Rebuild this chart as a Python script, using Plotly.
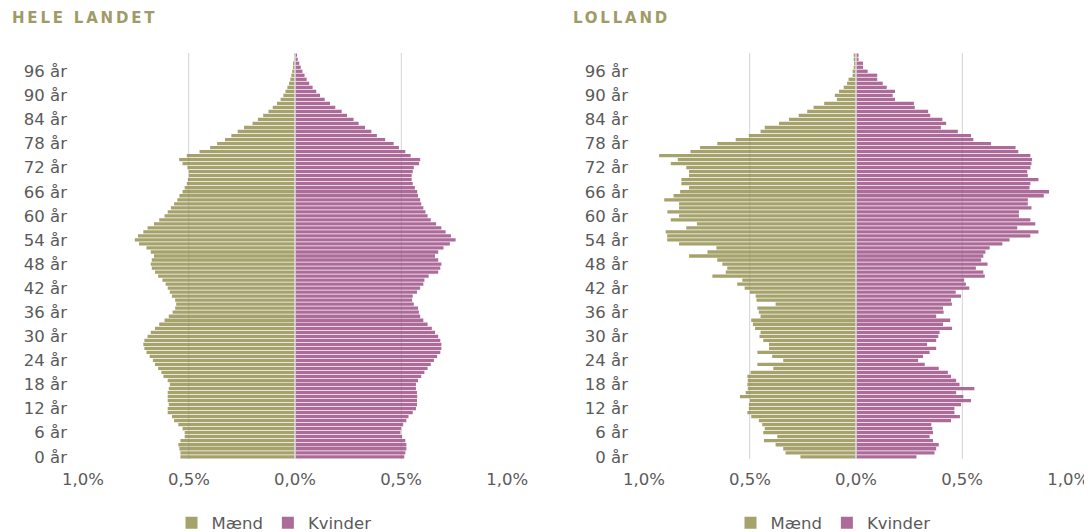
import plotly.graph_objects as go

# ---------------- data ----------------
ages = list(range(101))
tick_ages = list(range(0, 97, 6))
tick_labels = [f"{a} år" for a in tick_ages]
x_ticks = [-1.0, -0.5, 0.0, 0.5, 1.0]
x_tick_labels = ["1,0%", "0,5%", "0,0%", "0,5%", "1,0%"]
titles = ["HELE LANDET", "LOLLAND"]
series_names = ["Mænd", "Kvinder"]

# share of population (%) by single year of age, 0..100
hele_maend = [
    0.54, 0.54, 0.545, 0.55, 0.54, 0.52, 0.52, 0.53, 0.55, 0.57,
    0.58, 0.60, 0.60, 0.595, 0.60, 0.60, 0.60, 0.595, 0.59, 0.60,
    0.62, 0.63, 0.645, 0.66, 0.67, 0.685, 0.70, 0.71, 0.715, 0.71,
    0.695, 0.68, 0.66, 0.64, 0.615, 0.595, 0.577, 0.565, 0.56, 0.565,
    0.58, 0.59, 0.60, 0.61, 0.625, 0.645, 0.66, 0.675, 0.68, 0.675,
    0.665, 0.68, 0.70, 0.735, 0.755, 0.74, 0.715, 0.695, 0.665, 0.64,
    0.615, 0.60, 0.585, 0.57, 0.555, 0.545, 0.53, 0.52, 0.51, 0.505,
    0.50, 0.50, 0.507, 0.53, 0.546, 0.51, 0.45, 0.40, 0.367, 0.33,
    0.30, 0.27, 0.24, 0.20, 0.175, 0.15, 0.125, 0.105, 0.085, 0.068,
    0.055, 0.045, 0.036, 0.028, 0.022, 0.017, 0.013, 0.009, 0.006, 0.004,
    0.003,
]
hele_kvinder = [
    0.515, 0.52, 0.525, 0.525, 0.52, 0.505, 0.497, 0.50, 0.51, 0.525,
    0.535, 0.555, 0.57, 0.575, 0.575, 0.576, 0.575, 0.57, 0.57, 0.58,
    0.595, 0.61, 0.625, 0.64, 0.655, 0.67, 0.685, 0.69, 0.69, 0.685,
    0.675, 0.66, 0.645, 0.625, 0.605, 0.59, 0.584, 0.58, 0.56, 0.552,
    0.555, 0.575, 0.59, 0.605, 0.61, 0.63, 0.675, 0.685, 0.69, 0.675,
    0.66, 0.675, 0.70, 0.73, 0.757, 0.735, 0.71, 0.69, 0.665, 0.64,
    0.625, 0.615, 0.605, 0.595, 0.59, 0.58, 0.576, 0.565, 0.555, 0.55,
    0.55, 0.555, 0.56, 0.585, 0.59, 0.545, 0.52, 0.49, 0.465, 0.425,
    0.386, 0.36, 0.33, 0.30, 0.276, 0.245, 0.22, 0.19, 0.165, 0.14,
    0.118, 0.10, 0.083, 0.067, 0.055, 0.045, 0.035, 0.027, 0.02, 0.013,
    0.008,
]
lolland_maend = [
    0.262, 0.332, 0.343, 0.379, 0.434, 0.371, 0.437, 0.43, 0.442, 0.458,
    0.494, 0.512, 0.505, 0.505, 0.50, 0.547, 0.52, 0.51, 0.512, 0.51,
    0.512, 0.497, 0.39, 0.465, 0.343, 0.395, 0.465, 0.41, 0.41, 0.437,
    0.455, 0.45, 0.476, 0.486, 0.494, 0.45, 0.458, 0.465, 0.379, 0.469,
    0.473, 0.50, 0.525, 0.56, 0.536, 0.677, 0.614, 0.607, 0.63, 0.654,
    0.787, 0.70, 0.658, 0.834, 0.89, 0.89, 0.897, 0.80, 0.75, 0.873,
    0.834, 0.889, 0.834, 0.834, 0.904, 0.86, 0.829, 0.787, 0.823, 0.823,
    0.787, 0.787, 0.80, 0.873, 0.84, 0.928, 0.78, 0.735, 0.654, 0.567,
    0.505, 0.45, 0.43, 0.363, 0.316, 0.27, 0.23, 0.20, 0.15, 0.09,
    0.10, 0.08, 0.058, 0.042, 0.035, 0.016, 0.016, 0.011, 0.008, 0.011,
    0.011,
]
lolland_kvinder = [
    0.285, 0.37, 0.378, 0.39, 0.363, 0.347, 0.363, 0.36, 0.355, 0.448,
    0.49, 0.464, 0.464, 0.495, 0.542, 0.506, 0.472, 0.558, 0.488, 0.472,
    0.448, 0.433, 0.39, 0.324, 0.293, 0.316, 0.347, 0.378, 0.335, 0.378,
    0.388, 0.394, 0.453, 0.41, 0.444, 0.378, 0.413, 0.41, 0.452, 0.448,
    0.495, 0.47, 0.534, 0.518, 0.51, 0.607, 0.60, 0.565, 0.62, 0.59,
    0.60, 0.61, 0.63, 0.69, 0.724, 0.822, 0.86, 0.76, 0.845, 0.822,
    0.768, 0.768, 0.827, 0.81, 0.81, 0.885, 0.91, 0.818, 0.822, 0.86,
    0.81, 0.807, 0.822, 0.827, 0.83, 0.822, 0.765, 0.752, 0.636, 0.553,
    0.542, 0.48, 0.40, 0.425, 0.407, 0.35, 0.34, 0.277, 0.273, 0.184,
    0.173, 0.184, 0.145, 0.126, 0.10, 0.10, 0.055, 0.033, 0.033, 0.012,
    0.012,
]

# ---------------- style ----------------
MEN_COLOR = "#a6a26b"
WOMEN_COLOR = "#ad6b9a"
TEXT_COLOR = "#5a5a5a"
TITLE_COLOR = "#9f9b68"
GRID_COLOR = "#e3e3e3"
FONT = "DejaVu Sans, Verdana, sans-serif"

# the page places the figure 8px in from the window's top-left corner
OFF = 8
W, H = 1092 - OFF, 532 - OFF
M_T, M_B = 53 - OFF, 73
plot_h = H - M_T - M_B
x_domains = [[(82 - OFF) / W, (508 - OFF) / W], [(643 - OFF) / W, (1069 - OFF) / W]]
legend_x = [(274 - OFF) / W, (833 - OFF) / W]
title_x = [(10 - OFF) / W, (571 - OFF) / W]
legend_y = -(523 - 459) / plot_h
title_y = 1 + (53 - 18) / plot_h

panels = [(hele_maend, hele_kvinder), (lolland_maend, lolland_kvinder)]

fig = go.Figure()
for i, (maend, kvinder) in enumerate(panels):
    sfx = "" if i == 0 else str(i + 1)
    leg = "legend" if i == 0 else f"legend{i + 1}"
    fig.add_trace(go.Bar(
        y=ages, x=[-v for v in maend], orientation="h", name=series_names[0],
        marker=dict(color=MEN_COLOR, line=dict(width=0)),
        customdata=maend, xaxis="x" + sfx, yaxis="y" + sfx, legend=leg,
        hovertemplate="%{y} år: %{customdata:.2f}%<extra>Mænd</extra>",
    ))
    fig.add_trace(go.Bar(
        y=ages, x=kvinder, orientation="h", name=series_names[1],
        marker=dict(color=WOMEN_COLOR, line=dict(width=0)),
        xaxis="x" + sfx, yaxis="y" + sfx, legend=leg,
        hovertemplate="%{y} år: %{x:.2f}%<extra>Kvinder</extra>",
    ))

axis_font = dict(family=FONT, size=16.5, color=TEXT_COLOR)
layout = dict(
    width=W, height=H,
    margin=dict(l=0, r=0, t=M_T, b=M_B, autoexpand=False),
    paper_bgcolor="white", plot_bgcolor="white",
    barmode="relative", bargap=0.18,
    font=dict(family=FONT, color=TEXT_COLOR),
    showlegend=True,
)
for i in range(2):
    sfx = "" if i == 0 else str(i + 1)
    layout["xaxis" + sfx] = dict(
        domain=x_domains[i], range=[-1.004, 1.004],
        tickvals=x_ticks, ticktext=x_tick_labels,
        showgrid=True, gridcolor=GRID_COLOR, gridwidth=1,
        zeroline=False, showline=False, ticks="",
        tickfont=axis_font, ticklabelstandoff=8,
        anchor="y" + sfx, fixedrange=True, automargin=False,
    )
    layout["yaxis" + sfx] = dict(
        domain=[0, 1], range=[-0.55, 100.55],
        tickvals=tick_ages, ticktext=tick_labels,
        showgrid=False, zeroline=False, showline=False, ticks="",
        tickfont=axis_font, ticklabelstandoff=14,
        anchor="x" + sfx, fixedrange=True, automargin=False,
    )
    leg = "legend" if i == 0 else f"legend{i + 1}"
    layout[leg] = dict(
        orientation="h", x=legend_x[i], xanchor="center",
        y=legend_y, yanchor="middle",
        font=dict(family=FONT, size=16.5, color=TEXT_COLOR),
        itemwidth=30, tracegroupgap=0, bgcolor="rgba(0,0,0,0)",
    )
fig.update_layout(**layout)

for i, t in enumerate(titles):
    fig.add_annotation(
        text=f'<span style="letter-spacing:2.8px">{t}</span>',
        xref="paper", yref="paper", x=title_x[i], y=title_y,
        xanchor="left", yanchor="middle", showarrow=False,
        font=dict(family=FONT, size=15, color=TITLE_COLOR, weight="bold"),
    )

# light centre divider and faint grid lines drawn over the bars
for i in range(2):
    sfx = "" if i == 0 else str(i + 1)
    for xv in x_ticks[1:4]:
        fig.add_shape(
            type="line", xref="x" + sfx, yref=f"y{sfx} domain",
            x0=xv, x1=xv, y0=0, y1=1, layer="above",
            line=dict(color="#e2dce2" if xv == 0 else "rgba(90,90,90,0.10)",
                      width=1.5 if xv == 0 else 1),
        )

fig.write_html("out.html")
